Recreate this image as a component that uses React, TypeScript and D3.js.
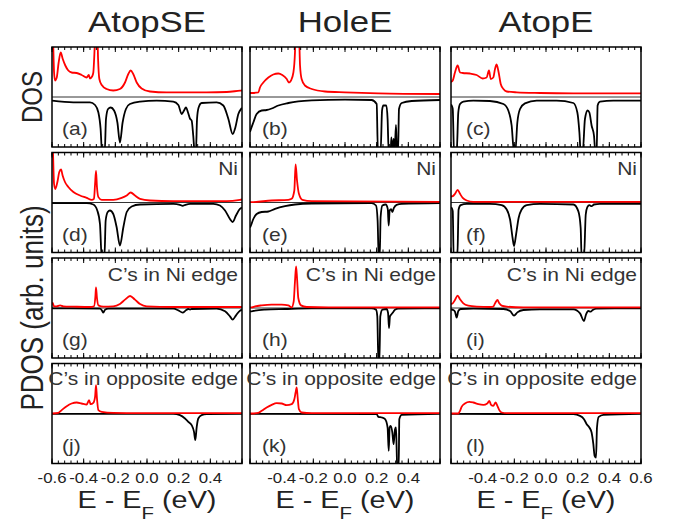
import React from 'react';
import * as d3 from 'd3';

type Pt = [number, number];

// ---- labels ----
const columnTitles = ['AtopSE', 'HoleE', 'AtopE'];
const rowNotes = ['', 'Ni', 'C’s in Ni edge', 'C’s in opposite edge'];
const panelLetters = ['a', 'b', 'c', 'd', 'e', 'f', 'g', 'h', 'i', 'j', 'k', 'l'];
const tickLabelsByColumn = [
  [-0.6, -0.4, -0.2, 0, 0.2, 0.4],
  [-0.4, -0.2, 0, 0.2, 0.4],
  [-0.4, -0.2, 0, 0.2, 0.4, 0.6],
];

// ---- total DOS (spin up positive, spin down negative), arb. units ----
const dosUpAtopSE: Pt[] = [[-0.6,1.3],[-0.596,1.3],[-0.587,0.49],[-0.581,0.33],[-0.570,0.39],[-0.558,0.69],[-0.545,0.89],[-0.532,0.76],[-0.516,0.63],[-0.497,0.53],[-0.476,0.49],[-0.444,0.48],[-0.413,0.44],[-0.381,0.39],[-0.368,0.44],[-0.360,0.37],[-0.347,0.41],[-0.339,0.49],[-0.330,1.03],[-0.326,1.3],[-0.314,1.3],[-0.309,0.76],[-0.301,0.36],[-0.286,0.24],[-0.255,0.16],[-0.213,0.13],[-0.171,0.16],[-0.139,0.29],[-0.118,0.46],[-0.103,0.53],[-0.087,0.46],[-0.065,0.29],[-0.034,0.17],[0.019,0.11],[0.124,0.093],[0.377,0.093],[0.503,0.1],[0.588,0.127],[0.6,0.13]];
const dosDnAtopSE: Pt[] = [[-0.6,-0.073],[-0.465,-0.107],[-0.360,-0.107],[-0.328,-0.16],[-0.307,-0.31],[-0.293,-0.64],[-0.284,-1.1],[-0.267,-1.1],[-0.259,-0.44],[-0.246,-0.24],[-0.229,-0.21],[-0.208,-0.27],[-0.187,-0.51],[-0.171,-0.91],[-0.154,-0.51],[-0.133,-0.24],[-0.108,-0.14],[-0.044,-0.093],[0.061,-0.073],[0.166,-0.093],[0.198,-0.16],[0.219,-0.34],[0.234,-0.27],[0.246,-0.21],[0.259,-0.31],[0.271,-0.43],[0.282,-0.47],[0.292,-0.77],[0.301,-1.1],[0.309,-1.1],[0.316,-0.44],[0.326,-0.21],[0.345,-0.12],[0.440,-0.107],[0.482,-0.17],[0.514,-0.44],[0.541,-0.74],[0.558,-0.61],[0.577,-0.34],[0.594,-0.24],[0.6,-0.22]];
const dosUpHoleE: Pt[] = [[-0.6,0.08],[-0.589,0.08],[-0.547,0.093],[-0.537,0.19],[-0.516,0.29],[-0.484,0.39],[-0.453,0.45],[-0.421,0.47],[-0.396,0.44],[-0.368,0.36],[-0.354,0.29],[-0.341,0.33],[-0.326,0.49],[-0.316,0.89],[-0.312,1.3],[-0.291,1.3],[-0.284,0.63],[-0.274,0.36],[-0.253,0.23],[-0.210,0.16],[-0.126,0.11],[0.0,0.093],[0.21,0.073],[0.6,0.06]];
const dosDnHoleE: Pt[] = [[-0.6,-0.7],[-0.594,-0.64],[-0.579,-0.51],[-0.558,-0.34],[-0.526,-0.27],[-0.495,-0.26],[-0.463,-0.23],[-0.421,-0.17],[-0.358,-0.12],[-0.295,-0.087],[-0.210,-0.067],[0.0,-0.053],[0.168,-0.06],[0.2,-0.14],[0.208,-1.1],[0.225,-1.1],[0.234,-0.27],[0.242,-0.17],[0.261,-0.17],[0.269,-0.44],[0.276,-1.1],[0.288,-1.1],[0.293,-0.81],[0.299,-1.1],[0.307,-0.84],[0.314,-1.04],[0.322,-0.56],[0.328,-1.1],[0.335,-1.1],[0.341,-0.24],[0.358,-0.12],[0.421,-0.08],[0.6,-0.06]];
const dosUpAtopE: Pt[] = [[-0.6,0.3],[-0.589,0.33],[-0.575,0.49],[-0.558,0.63],[-0.543,0.49],[-0.526,0.48],[-0.48,0.47],[-0.438,0.44],[-0.4,0.37],[-0.375,0.39],[-0.36,0.53],[-0.349,0.36],[-0.333,0.39],[-0.322,0.56],[-0.312,0.65],[-0.299,0.49],[-0.286,0.26],[-0.269,0.16],[-0.248,0.11],[-0.185,0.093],[-0.038,0.08],[0.173,0.073],[0.6,0.073]];
const dosDnAtopE: Pt[] = [[-0.6,-0.15],[-0.596,-0.17],[-0.589,-0.24],[-0.581,-1.1],[-0.564,-1.1],[-0.554,-0.31],[-0.543,-0.14],[-0.522,-0.093],[-0.459,-0.073],[-0.354,-0.08],[-0.269,-0.14],[-0.238,-0.27],[-0.217,-0.57],[-0.202,-1.1],[-0.194,-1.1],[-0.181,-0.51],[-0.164,-0.24],[-0.133,-0.127],[-0.059,-0.073],[0.067,-0.073],[0.173,-0.12],[0.198,-0.31],[0.211,-0.71],[0.219,-1.1],[0.232,-1.1],[0.246,-0.44],[0.263,-0.27],[0.274,-0.31],[0.288,-0.57],[0.303,-0.77],[0.312,-1.1],[0.32,-1.1],[0.326,-0.17],[0.341,-0.093],[0.425,-0.073],[0.6,-0.073]];

// ---- Ni projected DOS ----
const niUpAtopSE: Pt[] = [[-0.6,1.3],[-0.596,1.2],[-0.587,0.37],[-0.579,0.27],[-0.566,0.41],[-0.554,0.61],[-0.543,0.66],[-0.533,0.54],[-0.518,0.41],[-0.497,0.31],[-0.465,0.21],[-0.423,0.14],[-0.381,0.093],[-0.349,0.053],[-0.335,0.073],[-0.328,0.37],[-0.322,0.63],[-0.316,0.31],[-0.307,0.107],[-0.286,0.053],[-0.213,0.053],[-0.16,0.093],[-0.128,0.14],[-0.103,0.2],[-0.076,0.14],[-0.044,0.073],[0.019,0.04],[0.166,0.027],[0.503,0.027],[0.587,0.053],[0.6,0.06]];
const niDnAtopSE: Pt[] = [[-0.6,-0.013],[-0.381,-0.013],[-0.339,-0.04],[-0.314,-0.16],[-0.297,-0.43],[-0.286,-1.1],[-0.269,-1.1],[-0.261,-0.36],[-0.248,-0.19],[-0.234,-0.16],[-0.213,-0.23],[-0.192,-0.49],[-0.171,-0.86],[-0.149,-0.49],[-0.128,-0.19],[-0.097,-0.08],[-0.044,-0.04],[0.166,-0.027],[0.208,-0.047],[0.225,-0.067],[0.242,-0.047],[0.272,-0.027],[0.419,-0.027],[0.461,-0.06],[0.493,-0.16],[0.524,-0.33],[0.541,-0.39],[0.562,-0.26],[0.587,-0.127],[0.6,-0.1]];
const niUpHoleE: Pt[] = [[-0.6,0.007],[-0.594,0.007],[-0.463,0.04],[-0.358,0.053],[-0.337,0.073],[-0.32,0.24],[-0.312,0.76],[-0.303,0.44],[-0.291,0.173],[-0.269,0.053],[-0.21,0.027],[0.6,0.013]];
const niDnHoleE: Pt[] = [[-0.6,-0.5],[-0.594,-0.46],[-0.579,-0.33],[-0.558,-0.23],[-0.526,-0.19],[-0.484,-0.18],[-0.442,-0.127],[-0.379,-0.073],[-0.316,-0.04],[-0.21,-0.02],[0.168,-0.013],[0.196,-0.06],[0.206,-0.36],[0.213,-1.1],[0.219,-1.1],[0.225,-0.29],[0.236,-0.06],[0.257,-0.04],[0.27,-0.127],[0.276,-0.46],[0.282,-0.16],[0.291,-0.133],[0.299,-0.19],[0.309,-0.107],[0.326,-0.047],[0.358,-0.027],[0.6,-0.013]];
const niUpAtopE: Pt[] = [[-0.6,0.12],[-0.589,0.127],[-0.575,0.173],[-0.558,0.253],[-0.543,0.173],[-0.526,0.093],[-0.501,0.04],[-0.459,0.013],[0.6,0.013]];
const niDnAtopE: Pt[] = [[-0.6,-0.1],[-0.596,-0.107],[-0.589,-0.173],[-0.583,-1.1],[-0.56,-1.1],[-0.552,-0.14],[-0.539,-0.053],[-0.501,-0.027],[-0.354,-0.027],[-0.28,-0.053],[-0.248,-0.14],[-0.227,-0.34],[-0.211,-0.71],[-0.202,-0.87],[-0.189,-0.64],[-0.173,-0.31],[-0.154,-0.14],[-0.122,-0.053],[-0.038,-0.027],[0.173,-0.04],[0.204,-0.173],[0.219,-0.51],[0.225,-1.1],[0.24,-1.1],[0.251,-0.24],[0.261,-0.093],[0.274,-0.053],[0.288,-0.073],[0.303,-0.04],[0.341,-0.027],[0.6,-0.027]];

// ---- C atoms at the Ni edge ----
const cNiUpAtopSE: Pt[] = [[-0.6,0.067],[-0.596,0.1],[-0.587,0.033],[-0.571,0.033],[-0.549,0.053],[-0.528,0.033],[-0.465,0.027],[-0.36,0.02],[-0.335,0.033],[-0.326,0.23],[-0.322,0.41],[-0.316,0.2],[-0.307,0.053],[-0.276,0.027],[-0.213,0.033],[-0.171,0.08],[-0.139,0.167],[-0.107,0.24],[-0.076,0.167],[-0.044,0.08],[-0.002,0.033],[0.166,0.02],[0.6,0.02]];
const cNiDnAtopSE: Pt[] = [[-0.6,-0.007],[-0.297,-0.013],[-0.284,-0.053],[-0.276,-0.093],[-0.265,-0.033],[-0.244,-0.013],[0.166,-0.013],[0.198,-0.047],[0.225,-0.093],[0.246,-0.047],[0.261,-0.02],[0.272,-0.033],[0.282,-0.02],[0.44,-0.013],[0.493,-0.067],[0.524,-0.167],[0.541,-0.233],[0.562,-0.147],[0.587,-0.053],[0.6,-0.04]];
const cNiUpHoleE: Pt[] = [[-0.6,0.013],[-0.589,0.013],[-0.568,0.033],[-0.526,0.053],[-0.463,0.067],[-0.4,0.067],[-0.358,0.053],[-0.337,0.013],[-0.324,0.133],[-0.316,0.53],[-0.309,0.83],[-0.303,0.6],[-0.295,0.2],[-0.278,0.053],[-0.242,0.02],[-0.105,0.013],[0.6,0.013]];
const cNiDnHoleE: Pt[] = [[-0.6,-0.067],[-0.589,-0.067],[-0.568,-0.053],[-0.505,-0.033],[-0.379,-0.02],[-0.21,-0.007],[0.168,-0.007],[0.196,-0.033],[0.204,-0.167],[0.211,-1.1],[0.217,-1.1],[0.223,-0.167],[0.236,-0.033],[0.263,-0.02],[0.272,-0.1],[0.278,-0.4],[0.284,-0.167],[0.295,-0.12],[0.305,-0.08],[0.316,-0.033],[0.337,-0.013],[0.6,-0.007]];
const cNiUpAtopE: Pt[] = [[-0.6,0.08],[-0.589,0.093],[-0.575,0.16],[-0.558,0.247],[-0.543,0.173],[-0.522,0.093],[-0.491,0.047],[-0.438,0.027],[-0.354,0.02],[-0.333,0.027],[-0.322,0.093],[-0.307,0.16],[-0.295,0.093],[-0.28,0.047],[-0.248,0.027],[-0.143,0.013],[0.6,0.013]];
const cNiDnAtopE: Pt[] = [[-0.6,-0.03],[-0.585,-0.04],[-0.575,-0.073],[-0.564,-0.193],[-0.554,-0.06],[-0.539,-0.02],[-0.459,-0.013],[-0.269,-0.02],[-0.227,-0.06],[-0.202,-0.153],[-0.181,-0.087],[-0.143,-0.04],[-0.038,-0.027],[0.173,-0.027],[0.215,-0.107],[0.24,-0.26],[0.253,-0.127],[0.267,-0.06],[0.282,-0.073],[0.295,-0.04],[0.32,-0.013],[0.6,-0.007]];

// ---- C atoms at the opposite edge ----
const cOpUpAtopSE: Pt[] = [[-0.6,0],[-0.56,0.013],[-0.539,0.067],[-0.507,0.147],[-0.476,0.2],[-0.444,0.22],[-0.413,0.2],[-0.381,0.18],[-0.366,0.267],[-0.356,0.187],[-0.339,0.213],[-0.328,0.333],[-0.322,0.567],[-0.316,0.3],[-0.307,0.067],[-0.286,0.033],[-0.213,0.013],[-0.044,0.007],[0.6,0.007]];
const cOpDnAtopSE: Pt[] = [[-0.6,-0.007],[0.166,-0.007],[0.208,-0.033],[0.24,-0.1],[0.261,-0.167],[0.282,-0.233],[0.297,-0.367],[0.305,-0.533],[0.314,-0.267],[0.324,-0.1],[0.345,-0.033],[0.377,-0.013],[0.6,-0.007]];
const cOpUpHoleE: Pt[] = [[-0.6,0],[-0.589,0],[-0.547,0.013],[-0.526,0.053],[-0.495,0.12],[-0.463,0.173],[-0.432,0.207],[-0.4,0.2],[-0.368,0.167],[-0.337,0.187],[-0.32,0.287],[-0.312,0.42],[-0.305,0.52],[-0.299,0.32],[-0.291,0.087],[-0.274,0.02],[-0.21,0.007],[0.6,0.007]];
const cOpDnHoleE: Pt[] = [[-0.6,-0.007],[0.2,-0.013],[0.211,-0.067],[0.232,-0.08],[0.253,-0.113],[0.269,-0.28],[0.276,-0.747],[0.282,-0.28],[0.288,-0.247],[0.299,-0.38],[0.307,-0.613],[0.316,-0.313],[0.322,-0.28],[0.326,-0.68],[0.33,-1.1],[0.339,-1.1],[0.343,-0.113],[0.358,-0.027],[0.6,-0.007]];
const cOpUpAtopE: Pt[] = [[-0.6,0],[-0.554,0],[-0.543,0.053],[-0.533,0.133],[-0.512,0.2],[-0.484,0.233],[-0.459,0.22],[-0.427,0.187],[-0.396,0.173],[-0.371,0.2],[-0.358,0.253],[-0.347,0.173],[-0.333,0.153],[-0.318,0.22],[-0.307,0.153],[-0.295,0.067],[-0.28,0.02],[-0.248,0.007],[0.6,0.007]];
const cOpDnAtopE: Pt[] = [[-0.6,-0.007],[0.173,-0.013],[0.215,-0.047],[0.24,-0.113],[0.257,-0.213],[0.274,-0.28],[0.288,-0.38],[0.299,-0.613],[0.307,-0.847],[0.316,-0.88],[0.322,-0.28],[0.333,-0.067],[0.362,-0.027],[0.6,-0.007]];

// rows x columns of [spin up, spin down]
const panelSeries: [Pt[], Pt[]][][] = [
  [[dosUpAtopSE, dosDnAtopSE], [dosUpHoleE, dosDnHoleE], [dosUpAtopE, dosDnAtopE]],
  [[niUpAtopSE, niDnAtopSE], [niUpHoleE, niDnHoleE], [niUpAtopE, niDnAtopE]],
  [[cNiUpAtopSE, cNiDnAtopSE], [cNiUpHoleE, cNiDnHoleE], [cNiUpAtopE, cNiDnAtopE]],
  [[cOpUpAtopSE, cOpDnAtopSE], [cOpUpHoleE, cOpDnHoleE], [cOpUpAtopE, cOpDnAtopE]],
];

// ---- layout ----
const W = 679;
const H = 523;
const colLeft = [52, 250, 451];
const panelW = 190;
const rowTop = [47, 152.5, 258, 363.5];
const panelH = 100;
const letterDx = [10, 12, 15];
const SX = 1.2; // horizontal glyph stretch
const FONT = '"Liberation Sans", Arial, Helvetica, sans-serif';

const majorTicks = d3.range(7).map((i) => -0.6 + i * 0.2);
const minorTicks = d3.range(31).map((i) => -0.6 + i * 0.04);

function Txt(props: {
  x: number; y: number; size: number; anchor?: string; fill?: string; rotate?: number; children: React.ReactNode;
}) {
  const { x, y, size, anchor = 'start', fill = '#222', rotate = 0, children } = props;
  return (
    <text
      transform={`translate(${x},${y}) scale(${SX},1)${rotate ? ` rotate(${rotate})` : ''}`}
      fontSize={size}
      fontFamily={FONT}
      textAnchor={anchor}
      fill={fill}
    >
      {children}
    </text>
  );
}

function Panel({ row, col }: { row: number; col: number }) {
  const left = colLeft[col];
  const top = rowTop[row];
  const x = d3.scaleLinear().domain([-0.6, 0.6]).range([left, left + panelW]);
  const y = d3.scaleLinear().domain([-1, 1]).range([top + panelH, top]);
  const line = d3
    .line<Pt>()
    .x((d) => x(d[0]))
    .y((d) => y(d[1]))
    .curve(d3.curveMonotoneX);
  const [up, dn] = panelSeries[row][col];
  const clipId = `clip-${row}-${col}`;
  const idx = row * 3 + col;
  const note = rowNotes[row];
  return (
    <g>
      <defs>
        <clipPath id={clipId}>
          <rect x={left} y={top} width={panelW} height={panelH} />
        </clipPath>
      </defs>
      <g clipPath={`url(#${clipId})`}>
        <line x1={left} x2={left + panelW} y1={y(0)} y2={y(0)} stroke="#333" strokeWidth={1} />
        <path d={line(dn) ?? ''} fill="none" stroke="#000" strokeWidth={1.8} strokeLinejoin="round" />
        <path d={line(up) ?? ''} fill="none" stroke="#ff0000" strokeWidth={1.8} strokeLinejoin="round" />
      </g>
      {minorTicks.map((t, i) => (
        <g key={`mn${i}`} stroke="#000" strokeWidth={1}>
          <line x1={x(t)} x2={x(t)} y1={top} y2={top + 3} />
          <line x1={x(t)} x2={x(t)} y1={top + panelH} y2={top + panelH - 3} />
        </g>
      ))}
      {majorTicks.map((t, i) => (
        <g key={`mj${i}`} stroke="#000" strokeWidth={1}>
          <line x1={x(t)} x2={x(t)} y1={top} y2={top + 5} />
          <line x1={x(t)} x2={x(t)} y1={top + panelH} y2={top + panelH - 5} />
        </g>
      ))}
      <rect x={left} y={top} width={panelW} height={panelH} fill="none" stroke="#000" strokeWidth={1.5} />
      <Txt x={left + letterDx[col]} y={top + 88} size={17.5} fill="#333">
        ({panelLetters[idx]})
      </Txt>
      {note && (
        <Txt x={left + panelW - 4} y={top + (row === 3 ? 21 : 22.5)} size={17.5} anchor="end" fill="#333">
          {note}
        </Txt>
      )}
      {row === 3 &&
        tickLabelsByColumn[col].map((v) => (
          <Txt key={v} x={x(v)} y={483} size={14} anchor="middle" fill="#222">
            {Math.abs(v) < 1e-9 ? '0.0' : v.toFixed(1)}
          </Txt>
        ))}
      {row === 3 && (
        <Txt x={left + panelW / 2} y={508} size={24} anchor="middle" fill="#222">
          E - E<tspan fontSize={17} dy={11}>F</tspan>
          <tspan dy={-11}> (eV)</tspan>
        </Txt>
      )}
      {row === 0 && (
        <Txt x={left + panelW / 2} y={32} size={29} anchor="middle" fill="#222">
          {columnTitles[col]}
        </Txt>
      )}
    </g>
  );
}

export default function App() {
  const cells: { row: number; col: number }[] = [];
  for (let r = 0; r < 4; r++) for (let c = 0; c < 3; c++) cells.push({ row: r, col: c });
  return (
    <svg
      width={W}
      height={H}
      viewBox={`0 0 ${W} ${H}`}
      style={{ position: 'absolute', left: 0, top: 0, background: '#fff' }}
    >
      <rect width={W} height={H} fill="#fff" />
      {cells.map(({ row, col }) => (
        <Panel key={`${row}-${col}`} row={row} col={col} />
      ))}
      <Txt x={42} y={rowTop[0] + panelH / 2} size={24} anchor="middle" rotate={-90}>
        DOS
      </Txt>
      <Txt x={43} y={(rowTop[1] + rowTop[3] + panelH) / 2} size={26} anchor="middle" rotate={-90}>
        PDOS (arb. units)
      </Txt>
    </svg>
  );
}
